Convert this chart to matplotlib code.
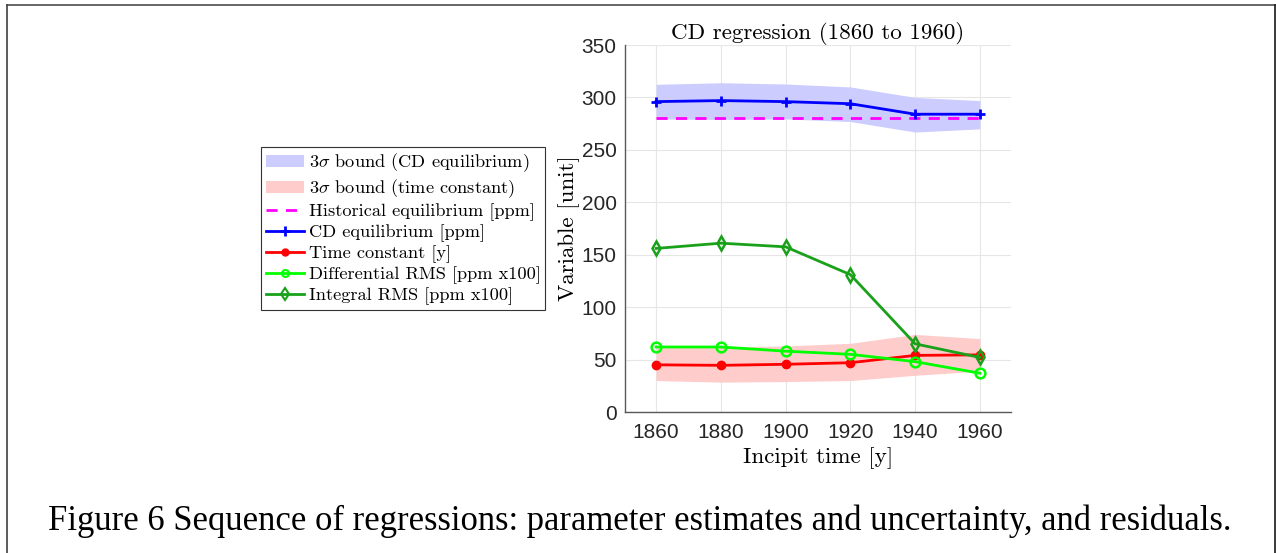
import matplotlib
matplotlib.use("Agg")
import matplotlib.pyplot as plt
from matplotlib.patches import Patch
from matplotlib.lines import Line2D

plt.rcParams['mathtext.fontset'] = 'cm'

years = [1860, 1880, 1900, 1920, 1940, 1960]
cd_equilibrium = [296, 297, 296, 294, 284, 284]
cd_upper = [312.5, 314, 312.8, 310, 300, 297]
cd_lower = [279.5, 279, 279.5, 277, 267, 270]
historical_eq = [280, 280, 280, 280, 280, 280]
time_constant = [45, 44.5, 45.5, 47, 54, 54.5]
tc_upper = [62, 62, 63, 65.5, 74, 70]
tc_lower = [30, 28.5, 29, 30, 35, 39]
diff_rms = [62, 62, 58, 55, 48, 37]
integral_rms = [156, 161, 157.5, 131, 65, 52]
xticks = [1860, 1880, 1900, 1920, 1940, 1960]
yticks = [0, 50, 100, 150, 200, 250, 300, 350]

W, H = 1276, 553
fig = plt.figure(figsize=(W/100, H/100), dpi=100)
ax = fig.add_axes([625/W, 1-412/H, (1011-625)/W, (412-45)/H])

blue_fill = (0.8, 0.8, 1.0)
red_fill = (1.0, 0.8, 0.8)
dkgreen = (0.1, 0.63, 0.1)

ax.fill_between(years, cd_lower, cd_upper, color=blue_fill, lw=0, zorder=1)
ax.fill_between(years, tc_lower, tc_upper, color=red_fill, lw=0, zorder=1)
ax.plot(years, historical_eq, '--', color='magenta', lw=2, dashes=(4, 3), zorder=3)
ax.plot(years, cd_equilibrium, '-+', color=(0, 0, 1), lw=2, ms=7, mew=2, zorder=4)
ax.plot(years, time_constant, '-o', color=(1, 0, 0), lw=2, ms=6, zorder=4)
ax.plot(years, diff_rms, '-o', color=(0, 1, 0), lw=2, ms=7, mew=1.8, mfc='none', zorder=4)
ax.plot(years, integral_rms, '-d', color=dkgreen, lw=2, ms=7, mew=1.8, mfc='none', zorder=4)

ax.set_xlim(1850.4, 1969.6)
ax.set_ylim(0, 350)
ax.set_xticks(xticks)
ax.set_yticks(yticks)
ax.grid(True, color=(0.9, 0.9, 0.9), lw=0.8, zorder=0)
ax.set_axisbelow(True)
for s in ['top', 'right']:
    ax.spines[s].set_visible(False)
for s in ['left', 'bottom']:
    ax.spines[s].set_color((0.35, 0.35, 0.35))
    ax.spines[s].set_linewidth(1)
ax.tick_params(length=0, labelsize=15, colors=(0.15, 0.15, 0.15))
ax.tick_params(axis='x', pad=8)
ax.tick_params(axis='y', pad=6)
for lbl in ax.get_xticklabels() + ax.get_yticklabels():
    lbl.set_fontfamily('Liberation Sans')

ax.set_title('CD regression (1860 to 1960)', family='cmr10', fontsize=16.6, pad=4)
ax.set_xlabel('Incipit time [y]', family='cmr10', fontsize=16.6, labelpad=4)
ax.set_ylabel('Variable [unit]', family='cmr10', fontsize=16.6, labelpad=1)

handles = [
    Patch(facecolor=blue_fill, edgecolor='none'),
    Patch(facecolor=red_fill, edgecolor='none'),
    Line2D([], [], color='magenta', lw=2, ls='--', dashes=(4, 3)),
    Line2D([], [], color='blue', lw=2, marker='+', ms=7, mew=2),
    Line2D([], [], color='red', lw=2, marker='o', ms=5),
    Line2D([], [], color=(0, 1, 0), lw=2, marker='o', ms=5, mfc='none', mew=1.5),
    Line2D([], [], color=dkgreen, lw=2, marker='d', ms=6, mfc='none', mew=1.5),
]
labels = [
    r'$3\sigma$ bound (CD equilibrium)',
    r'$3\sigma$ bound (time constant)',
    'Historical equilibrium [ppm]',
    'CD equilibrium [ppm]',
    'Time constant [y]',
    'Differential RMS [ppm x100]',
    'Integral RMS [ppm x100]',
]
leg = fig.legend(handles, labels, loc='upper left', bbox_to_anchor=(261/W, 1-147/H),
                 prop={'family': 'cmr10', 'size': 13.2}, frameon=True, fancybox=False,
                 edgecolor=(0.2, 0.2, 0.2), framealpha=1, borderpad=0.25,
                 labelspacing=0.18, handlelength=2.1, handletextpad=0.25,
                 borderaxespad=0)
leg.get_frame().set_linewidth(0.8)

fig.text(640/W, 1-521/H, 'Figure 6 Sequence of regressions: parameter estimates and uncertainty, and residuals.',
         family='Liberation Serif', fontsize=24.9, ha='center', va='center')

# page border
fig.add_artist(Line2D([7/W, 1275/W], [1-4.5/H, 1-4.5/H], transform=fig.transFigure, color=(0.3, 0.3, 0.3), lw=1.2))
fig.add_artist(Line2D([7/W, 7/W], [0, 1-4.5/H], transform=fig.transFigure, color=(0.25, 0.25, 0.25), lw=1.2))
fig.add_artist(Line2D([1275/W, 1275/W], [0, 1-4.5/H], transform=fig.transFigure, color=(0.1, 0.1, 0.1), lw=1.2))

fig.savefig('out.png', dpi=100)
